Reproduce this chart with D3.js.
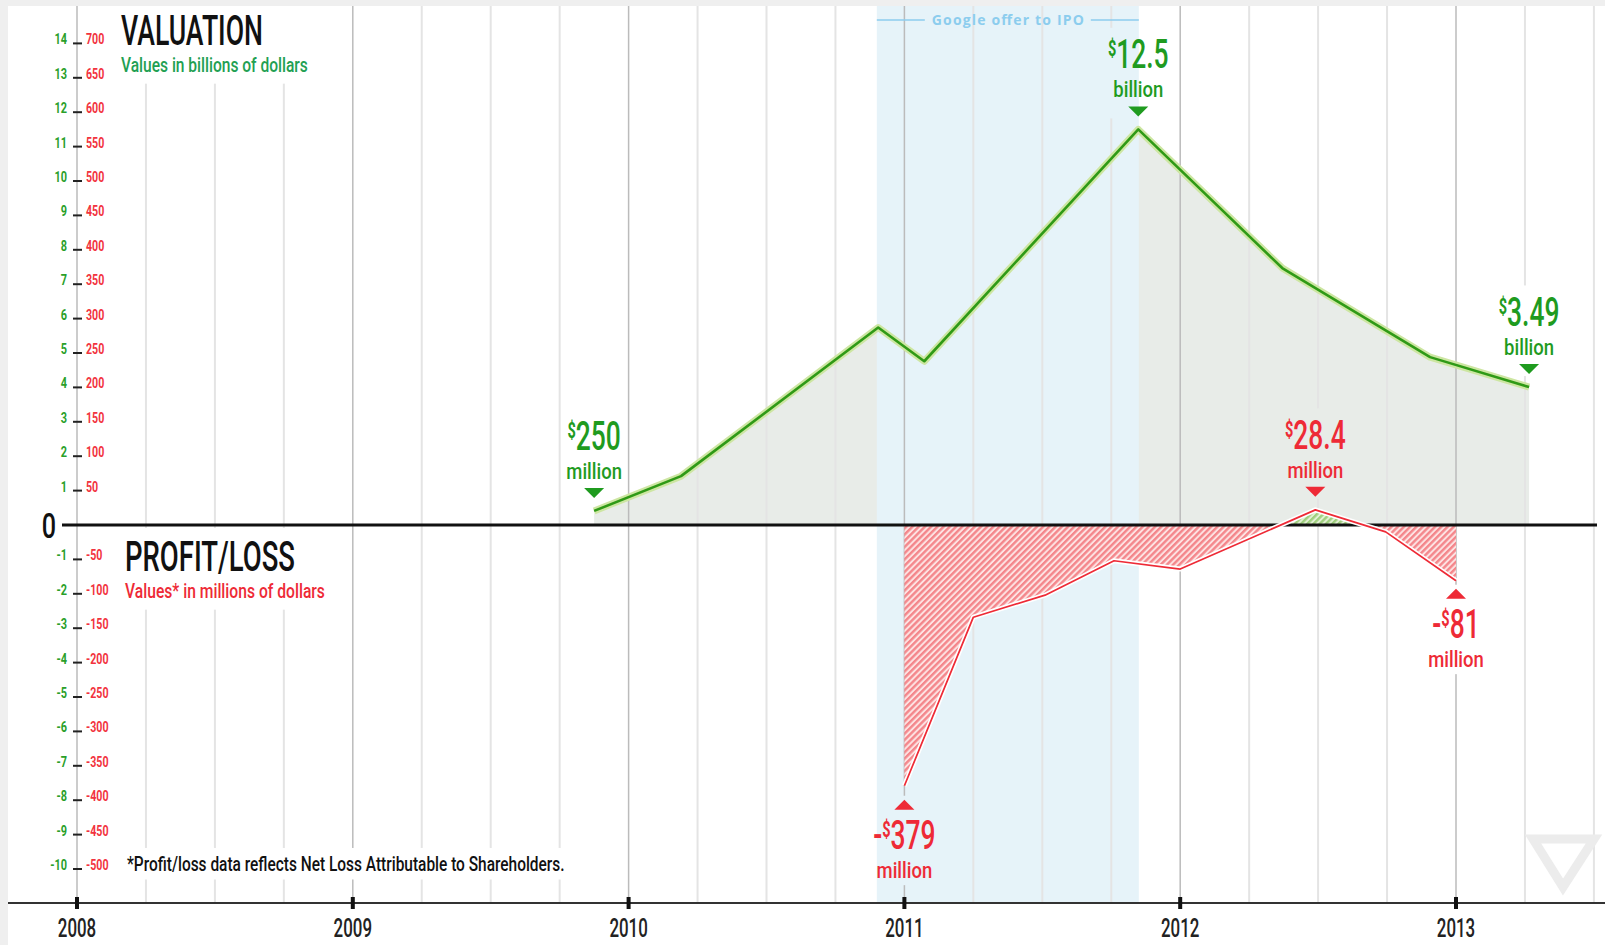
<!DOCTYPE html>
<html>
<head>
<meta charset="utf-8">
<script src="https://cdn.jsdelivr.net/npm/d3@7"></script>
<style>
  html, body { margin: 0; padding: 0; background: #fff; }
  svg { display: block; font-family: Roboto, "DejaVu Sans", sans-serif; }
</style>
</head>
<body>
<svg id="chart" width="1605" height="945"></svg>
<script>
// Data
const years = [2008, 2009, 2010, 2011, 2012, 2013];
const valYears = [2009.875, 2010.19, 2010.905, 2011.072, 2011.848, 2012.37, 2012.906, 2013.265];
const valBillions = [0.41, 1.42, 5.74, 4.76, 11.5, 7.47, 4.88, 4.01];
const plYears = [2011.0, 2011.25, 2011.51, 2011.76, 2012.0, 2012.49, 2012.745, 2013.0];
const plMillions = [-379, -134, -102, -52, -64, 22, -10, -81];
const valTicks = d3.range(-10, 15).filter(d => d !== 0);
const plTicks = valTicks.map(d => d * 50);
const ipoBand = [2010.9, 2011.85];

// Callouts
const noteAmounts = ['250', '12.5', '3.49', '28.4', '81', '379'];
const noteUnits = ['million', 'billion', 'billion', 'million', 'million', 'million'];
const noteSeries = ['val', 'val', 'val', 'pl', 'pl', 'pl'];
const notePoint = [0, 4, 7, 5, 7, 0];
const noteNegative = [false, false, false, false, true, true];
const noteGap = [13, 13, 13, 13, 8, 14];

const W = 1605, H = 945;
const GREEN = '#1f9b1f', RED = '#ee2a36';
const svg = d3.select('#chart');
const defs = svg.append('defs');

// Scales
const x = d3.scaleLinear().domain([2008, 2013]).range([77, 1456]);
const yVal = d3.scaleLinear().domain([-10, 14]).range([869, 43.4]);
const yPL = d3.scaleLinear().domain([-500, 700]).range([869, 43.4]);
const topY = 6, axisY = 903, zeroY = yVal(0);

// Helpers for the condensed type
function condText(parent, px, py, sx) {
  return parent.append('text').attr('transform', `translate(${px},${py}) scale(${sx},1)`);
}
function fitWidth(t, px, py, w) {
  const len = t.node().getComputedTextLength();
  t.attr('transform', `translate(${px},${py}) scale(${w / len},1)`);
}

// Background + frame
svg.append('rect').attr('width', W).attr('height', H).attr('fill', '#fff');
svg.append('rect').attr('width', W).attr('height', topY).attr('fill', '#efefef');
svg.append('rect').attr('width', 8).attr('height', H).attr('fill', '#efefef');

// Valuation area
const valPts = valYears.map((d, i) => [d, valBillions[i]]);
svg.append('path')
  .datum(valPts)
  .attr('d', d3.area().x(d => x(d[0])).y0(zeroY).y1(d => yVal(d[1])))
  .attr('fill', '#e8ece8');

// Google IPO band
svg.append('rect')
  .attr('x', x(ipoBand[0])).attr('y', topY)
  .attr('width', x(ipoBand[1]) - x(ipoBand[0])).attr('height', axisY - topY)
  .attr('fill', '#e6f3f9');

// Gridlines (masked where labels sit)
const mask = defs.append('mask').attr('id', 'gridMask')
  .attr('maskUnits', 'userSpaceOnUse').attr('x', 0).attr('y', 0).attr('width', W).attr('height', H);
mask.append('rect').attr('width', W).attr('height', H).attr('fill', '#fff');

const quarters = d3.range(0, 23).map(i => 2008 + i * 0.25);
svg.append('g').attr('mask', 'url(#gridMask)')
  .selectAll('line')
  .data(quarters)
  .join('line')
  .attr('x1', d => x(d)).attr('x2', d => x(d))
  .attr('y1', topY).attr('y2', axisY)
  .attr('stroke', d => Number.isInteger(d) ? '#bbbbbb' : '#e4e4e4')
  .attr('stroke-width', d => Number.isInteger(d) ? 1.5 : 2);

// Hatch patterns
function hatch(id, bg, fg) {
  const p = defs.append('pattern').attr('id', id)
    .attr('patternUnits', 'userSpaceOnUse').attr('width', 4.4).attr('height', 4.4)
    .attr('patternTransform', 'rotate(45)');
  p.append('rect').attr('width', 4.4).attr('height', 4.4).attr('fill', bg);
  p.append('rect').attr('width', 2.4).attr('height', 4.4).attr('fill', fg);
}
hatch('hatchRed', '#fde2e2', '#f4868b');
hatch('hatchGreen', '#e2f0d4', '#9fcf7e');

defs.append('clipPath').attr('id', 'clipPos')
  .append('rect').attr('width', W).attr('height', zeroY);
defs.append('clipPath').attr('id', 'clipNeg')
  .append('rect').attr('y', zeroY).attr('width', W).attr('height', H - zeroY);

const plPts = plYears.map((d, i) => [d, plMillions[i]]);
const plArea = d3.area().x(d => x(d[0])).y0(zeroY).y1(d => yPL(d[1]));
svg.append('path').datum(plPts).attr('d', plArea)
  .attr('fill', 'url(#hatchRed)').attr('clip-path', 'url(#clipNeg)');
svg.append('path').datum(plPts).attr('d', plArea)
  .attr('fill', 'url(#hatchGreen)').attr('clip-path', 'url(#clipPos)');

// Zero line and bottom axis
svg.append('line').attr('x1', 62).attr('x2', 1597).attr('y1', zeroY).attr('y2', zeroY)
  .attr('stroke', '#111').attr('stroke-width', 3);
svg.append('line').attr('x1', 8).attr('x2', W).attr('y1', axisY).attr('y2', axisY)
  .attr('stroke', '#333').attr('stroke-width', 2);

// Lines with halos
const valLine = d3.line().x(d => x(d[0])).y(d => yVal(d[1]));
svg.append('path').datum(valPts).attr('d', valLine)
  .attr('fill', 'none').attr('stroke', '#cde6a2').attr('stroke-width', 7).attr('stroke-linejoin', 'round');
svg.append('path').datum(valPts).attr('d', valLine)
  .attr('fill', 'none').attr('stroke', '#2f9a16').attr('stroke-width', 2.6).attr('stroke-linejoin', 'round');

const plLine = d3.line().x(d => x(d[0])).y(d => yPL(d[1]));
svg.append('path').datum(plPts).attr('d', plLine)
  .attr('fill', 'none').attr('stroke', '#fff').attr('stroke-width', 5).attr('stroke-linejoin', 'round');
svg.append('path').datum(plPts).attr('d', plLine)
  .attr('fill', 'none').attr('stroke', RED).attr('stroke-width', 1.7).attr('stroke-linejoin', 'round');

// Left axis ticks and labels
const axisG = svg.append('g');
axisG.selectAll('line')
  .data(valTicks)
  .join('line')
  .attr('x1', 73).attr('x2', 82)
  .attr('y1', d => yVal(d)).attr('y2', d => yVal(d))
  .attr('stroke', '#222').attr('stroke-width', 2);
valTicks.forEach((v, i) => {
  const ty = yVal(v) + 1;
  condText(axisG, 67, ty, 0.78).attr('text-anchor', 'end')
    .attr('font-size', 14).attr('font-weight', 700).attr('fill', '#2a9f2a').text(v);
  condText(axisG, 86, ty, 0.76)
    .attr('font-size', 14).attr('font-weight', 700).attr('fill', '#f2333e').text(plTicks[i]);
});
condText(svg, 56, zeroY + 13, 0.7).attr('text-anchor', 'end')
  .attr('font-size', 36).attr('font-weight', 500).attr('fill', '#111').text('0');

// Year ticks and labels
const yearG = svg.append('g');
yearG.selectAll('rect')
  .data(years)
  .join('rect')
  .attr('x', d => x(d) - 2).attr('y', axisY - 6).attr('width', 4).attr('height', 12)
  .attr('fill', '#111');
years.forEach(yr => {
  condText(yearG, x(yr), axisY + 34, 0.65).attr('text-anchor', 'middle')
    .attr('font-size', 26).attr('font-weight', 500).attr('fill', '#222').text(yr);
});

// Titles
function titleBlock(px, py, title, tw, sub, sw, subColor) {
  const g = svg.append('g');
  const t = condText(g, px, py, 1).attr('font-size', 42).attr('font-weight', 500).attr('fill', '#111').text(title);
  fitWidth(t, px, py, tw);
  const s = condText(g, px, py + 27, 1).attr('font-size', 21).attr('font-weight', 500)
    .attr('fill', subColor).text(sub);
  fitWidth(s, px, py + 27, sw);
  const b = g.node().getBBox();
  mask.append('rect').attr('x', b.x - 6).attr('y', b.y - 4).attr('width', b.width + 12).attr('height', b.height + 10).attr('fill', '#000');
}
titleBlock(121, 45, 'VALUATION', 142, 'Values in billions of dollars', 187, '#22a052');
titleBlock(125, 571, 'PROFIT/LOSS', 170, 'Values* in millions of dollars', 200, RED);

// Footnote
const foot = svg.append('g');
const ft = condText(foot, 127, 871, 1).attr('font-size', 20).attr('font-weight', 500)
  .attr('fill', '#111').text('*Profit/loss data reflects Net Loss Attributable to Shareholders.');
fitWidth(ft, 127, 871, 438);
const fb = foot.node().getBBox();
mask.append('rect').attr('x', fb.x - 6).attr('y', fb.y - 4).attr('width', fb.width + 12).attr('height', fb.height + 8).attr('fill', '#000');

// Google offer label
const bx0 = x(ipoBand[0]), bx1 = x(ipoBand[1]);
const gl = svg.append('text')
  .attr('x', (bx0 + bx1) / 2).attr('y', 25)
  .attr('text-anchor', 'middle')
  .attr('font-family', '"Open Sans", Lato, sans-serif')
  .attr('font-size', 14).attr('font-weight', 700)
  .attr('fill', '#8ccdee')
  .attr('textLength', 152).attr('lengthAdjust', 'spacing')
  .text('Google offer to IPO');
const gb = gl.node().getBBox();
svg.append('line').attr('x1', bx0).attr('x2', gb.x - 7).attr('y1', 20).attr('y2', 20)
  .attr('stroke', '#8ccdee').attr('stroke-width', 1.3);
svg.append('line').attr('x1', gb.x + gb.width + 7).attr('x2', bx1).attr('y1', 20).attr('y2', 20)
  .attr('stroke', '#8ccdee').attr('stroke-width', 1.3);

// Callouts
noteAmounts.forEach((amt, i) => {
  const isVal = noteSeries[i] === 'val';
  const color = isVal ? GREEN : RED;
  const px = isVal ? x(valYears[notePoint[i]]) : x(plYears[notePoint[i]]);
  const py = isVal ? yVal(valBillions[notePoint[i]]) : yPL(plMillions[notePoint[i]]);
  const g = svg.append('g').attr('fill', color);
  let numY, unitY;
  if (noteNegative[i]) {
    const triB = py + noteGap[i] + 10;
    g.append('path').attr('d', `M${px - 10},${triB} L${px + 10},${triB} L${px},${triB - 10} Z`);
    numY = triB + 39; unitY = triB + 68;
  } else {
    const triT = py - noteGap[i] - 10;
    g.append('path').attr('d', `M${px - 10},${triT} L${px + 10},${triT} L${px},${triT + 10} Z`);
    numY = triT - 38; unitY = triT - 9;
  }
  const t = condText(g, px, numY, 0.66).attr('text-anchor', 'middle')
    .attr('font-size', 40).attr('font-weight', 500);
  if (noteNegative[i]) t.append('tspan').text('-');
  t.append('tspan').attr('font-size', 22).attr('font-weight', 700).attr('dy', -12).text('$');
  t.append('tspan').attr('dy', 12).text(amt);
  condText(g, px, unitY, 0.84).attr('text-anchor', 'middle')
    .attr('font-size', 22).attr('font-weight', 500).text(noteUnits[i]);
  const b = g.node().getBBox();
  mask.append('rect').attr('x', b.x - 3).attr('y', b.y - 4).attr('width', b.width + 6).attr('height', b.height + 6).attr('fill', '#000');
});

// Faint logo mark, bottom right
svg.append('path')
  .attr('d', 'M1533,839 L1594,839 L1563,887 Z')
  .attr('fill', 'none').attr('stroke', '#ececec').attr('stroke-width', 9);
</script>
</body>
</html>
